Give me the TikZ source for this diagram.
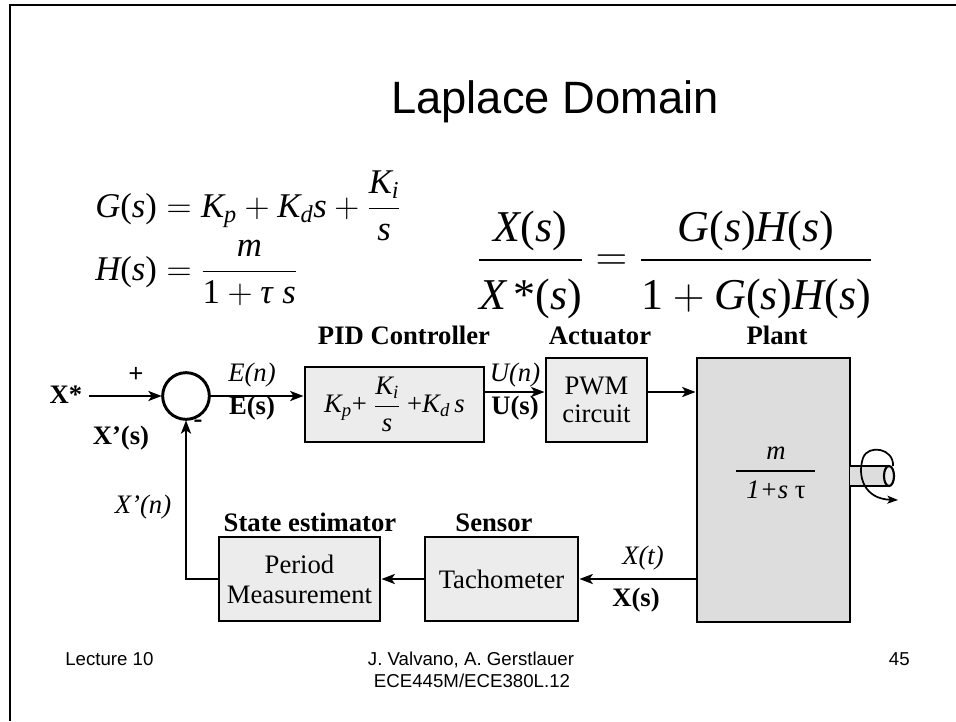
\RequirePackage{fix-cm}
\documentclass[tikz,border=0pt]{standalone}
\usepackage{amsmath}
\usepackage{fontspec}
\setmainfont{Liberation Serif}
\newfontfamily\arialf{Liberation Sans}
\usetikzlibrary{arrows.meta}
\definecolor{boxgray}{RGB}{236,236,236}
\definecolor{plantgray}{RGB}{221,221,221}
\newcommand{\mv}[1]{\text{\itshape #1}}
\newcommand{\tp}[1]{\text{(}#1\text{)}}
\tikzset{
  lbl/.style={inner sep=0pt, font=\fontsize{20}{21}\selectfont},
  bl/.style={inner sep=0pt, font=\fontsize{20}{21}\selectfont\bfseries},
  il/.style={inner sep=0pt, font=\fontsize{20}{21}\selectfont\itshape},
  head/.style={bl, anchor=base},
  blk/.style={draw, line width=2.2pt, fill=boxgray, inner sep=0pt, align=center,
              font=\fontsize{20}{21}\selectfont},
  arr/.style={line width=2.2pt, -{Stealth[length=10pt,width=7.5pt,inset=2.5pt]}},
  wire/.style={line width=2.2pt},
  footer/.style={inner sep=0pt, font=\arialf\fontsize{14}{16.5}\selectfont}
}
\begin{document}
\begin{tikzpicture}[x=0.75pt,y=-0.75pt]
\useasboundingbox (0,0) rectangle (956,721);
% slide frame
\draw[line width=1.5pt] (10,721) -- (10,5) -- (956,5);
% title
\node[inner sep=0pt, anchor=base, font=\arialf\fontsize{34}{40}\selectfont] (title) at (555,113) {Laplace Domain};
% equations
\node[inner sep=0pt, anchor=base west, font=\fontsize{26}{32}\selectfont] (geq) at (95,217)
  {$\mv{G}\tp{\mv{s}} = \mv{K}_{\mv{p}} + \mv{K}_{\mv{d}}\mv{s} + \dfrac{\mv{K}_{\mv{i}}}{\mv{s}}$};
\node[inner sep=0pt, anchor=base west, font=\fontsize{26}{32}\selectfont] (heq) at (95,280)
  {$\mv{H}\tp{\mv{s}} = \dfrac{\mv{m}}{\text{1}+\mv{τ}\;\mv{s}}$};
\node[inner sep=0pt, font=\fontsize{33}{40}\selectfont] (teq) at (675,265)
  {$\dfrac{\mv{X}\tp{\mv{s}}\rule[-9pt]{0pt}{9pt}}{\rule{0pt}{34pt}\mv{X}\,\text{*}\tp{\mv{s}}} = \dfrac{\mv{G}\tp{\mv{s}}\mv{H}\tp{\mv{s}}\rule[-9pt]{0pt}{9pt}}{\rule{0pt}{34pt}\text{1}+\mv{G}\tp{\mv{s}}\mv{H}\tp{\mv{s}}}$};
% blocks
\node[circle, minimum size=36pt, inner sep=0pt] (sum) at (186,396) {};
\node[blk, minimum width=134.25pt, minimum height=56.25pt] (pid) at (394.5,404.5)
  {$\mv{K}_{\mv{p}}\text{+ }\dfrac{\mv{K}_{\mv{i}}}{\mv{s}}\text{ +}\mv{K}_{\mv{d}}\,\mv{s}$};
\node[blk, minimum width=75.75pt, minimum height=63pt] (pwm) at (596.5,400) {PWM\\circuit};
\node[blk, fill=plantgray, minimum width=114.75pt, minimum height=198pt] (plant) at (773.5,490) {};
\node[blk, minimum width=114.75pt, minimum height=63pt] (tach) at (501.5,579) {Tachometer};
\node[blk, minimum width=120.75pt, minimum height=63pt, font=\fontsize{20}{22.5}\selectfont] (period) at (299.5,579) {Period\\Measurement};
% plant transfer function
\node[il] (pm) at (776,453) {m};
\node[lbl] (pden) at (776,490) {{\itshape 1+s}~τ};
\coordinate (barl) at (736,471);
\coordinate (barr) at (815,471);
\draw[wire] (barl) -- (barr);
% headings
\node[head] (hpid) at (404,344) {PID Controller};
\node[head] (hact) at (600,344) {Actuator};
\node[head] (hplant) at (777,344) {Plant};
\node[head] (hest) at (310,531) {State estimator};
\node[head] (hsen) at (494,531) {Sensor};
% signal labels
\node[bl] (xin) at (66,395) {X*};
\node[bl] (plus) at (136,375) {+};
\node[bl] (minus) at (198,424) {-};
\node[bl] (xps) at (121,438) {X’(s)};
\node[il] (en) at (252,375) {E(n)};
\node[bl] (es) at (252,408) {E(s)};
\node[il] (un) at (515,375) {U(n)};
\node[bl] (us) at (515,408) {U(s)};
\node[il] (xt) at (643,558) {X(t)};
\node[bl] (xs) at (636,600) {X(s)};
\node[il] (xpn) at (143,507) {X'(n)};
% connectors
\coordinate (ya) at (0,392);
\draw[arr] ([xshift=5pt]xin.east |- sum.west) -- (sum.west);
\draw[arr] (sum.east) -- (sum.east -| pid.west);
\draw[arr] (pid.east |- ya) -- (pwm.west |- ya);
\draw[arr] (pwm.east |- ya) -- (plant.west |- ya);
\draw[arr] (plant.west |- tach.east) -- (tach.east);
\draw[arr] (tach.west) -- (period.east);
\draw[arr] (period.west) -| (sum.south);
% summing junction ring
\draw[wire, fill=white] (sum.center) circle [radius=17.5pt];
% output shaft
\coordinate (sh1) at (850,466);
\coordinate (sh2) at (889,486);
\fill[plantgray] (sh1) rectangle (sh2);
\draw[line width=1.6pt] (850,466) -- (889,466);
\draw[line width=1.6pt] (850,486) -- (889,486);
\draw[line width=1.6pt, fill=boxgray] (889,476) ellipse (5 and 10);
\draw[line width=1.3pt, -{Stealth[length=8pt,width=6pt,inset=2pt]}]
  (893,466) .. controls (894,448) and (868,444) .. (863,458)
  .. controls (857,476) and (864,499) .. (898,500);
% footer
\node[footer, anchor=base west] (lec) at (65,665) {Lecture 10};
\node[footer, anchor=base] (auth) at (471,665) {J. Valvano, A. Gerstlauer};
\node[footer, anchor=base] (course) at (472,687) {ECE445M/ECE380L.12};
\node[footer, anchor=base east] (pg) at (910,665) {45};
\end{tikzpicture}
\end{document}
